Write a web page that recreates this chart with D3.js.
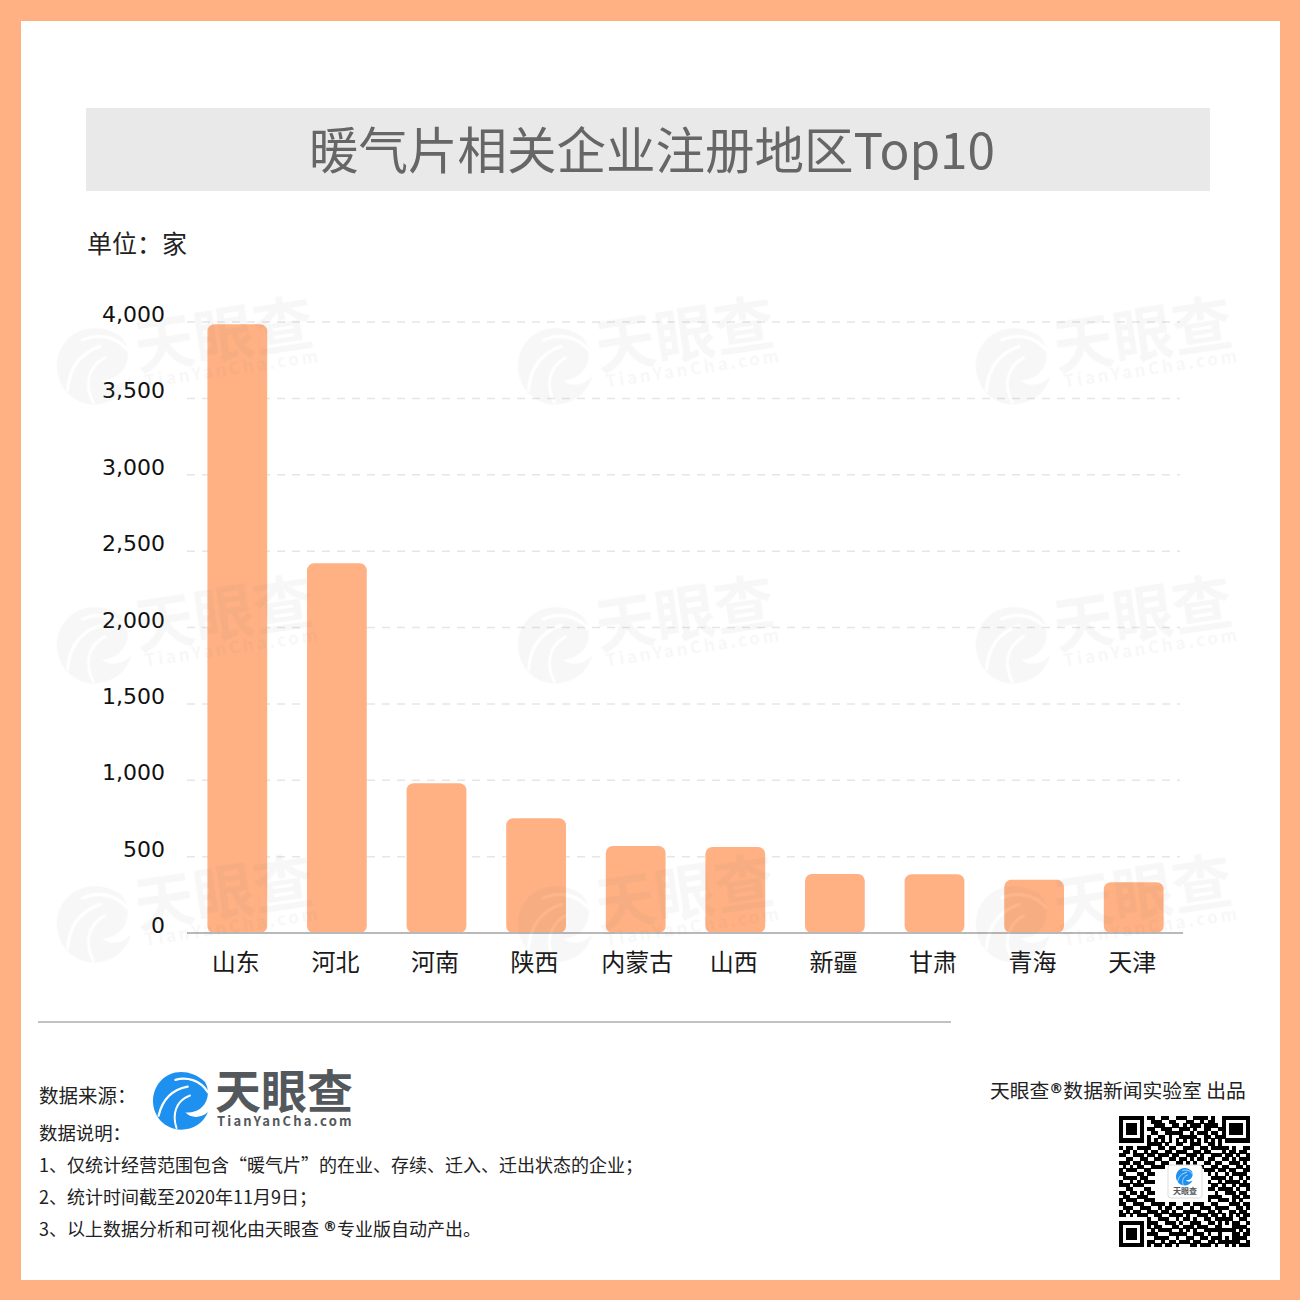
<!DOCTYPE html>
<html lang="zh">
<head>
<meta charset="utf-8">
<title>暖气片相关企业注册地区Top10</title>
<script src="https://cdn.jsdelivr.net/npm/d3@7"></script>
<style>
  html, body { margin: 0; padding: 0; background: #fff; }
  svg { display: block; }
  text { font-family: "Noto Sans CJK SC", "Noto Sans", sans-serif; }
  .y-axis text { font-family: "DejaVu Sans", sans-serif; font-size: 22px; fill: #111; }
  .y-axis .tick line { stroke: #e6e6e6; stroke-width: 1.5; stroke-dasharray: 8 7; }
  .y-axis .domain { display: none; }
  .x-axis text { font-size: 24px; fill: #1a1a1a; }
  .x-axis .tick line { display: none; }
  .x-axis .domain { stroke: #b9b9b9; stroke-width: 2; }
  .note { font-size: 18px; fill: #222; }
  .reg { font-family: "DejaVu Sans", sans-serif; font-size: 14px; font-weight: 700; }
</style>
</head>
<body>
<div id="chart"></div>
<script>
const categories = ['山东', '河北', '河南', '陕西', '内蒙古', '山西', '新疆', '甘肃', '青海', '天津'];
const counts = [3985, 2420, 980, 752, 570, 563, 386, 385, 348, 332];
const yTicks = [0, 500, 1000, 1500, 2000, 2500, 3000, 3500, 4000];

const titleText = '暖气片相关企业注册地区Top10';
const unitText = '单位：家';
const sourceLabel = '数据来源：';
const noteLabel = '数据说明：';
const notes = [
  ['1、仅统计经营范围包含“暖气片”的在业、存续、迁入、迁出状态的企业；'],
  ['2、统计时间截至2020年11月9日；'],
  ['3、以上数据分析和可视化由天眼查 ', '®', '专业版自动产出。']
];
const wmCols = [0, 461, 919];
const wmRows = [0, 279, 558];

// 二维码
const qrRows = [
  '1111111011001100111001111010011111111',
  '1000001001110011000110010110010000001',
  '1011101000111001101011101111010111101',
  '1011101011001110011101001100110111101',
  '1011101001100111110010111011010111101',
  '1000001010011010011111001101110000001',
  '1111111010101010101010101010101111111',
  '0000000011110100110011100110100000000',
  '1011011110011011001110011011111010011',
  '0110100101100110111001101100010110110',
  '1100111011011101100111010011101101001',
  '0011001100110011011010110110011010111',
  '1110110111001100110101001101100111010',
  '0101011001111011001110110011011001101',
  '1011100110000000000000001110110110011',
  '1100011011000000000000000101001011110',
  '0111101100000000000000000011110100101',
  '1001010111000000000000000100101111010',
  '1110111000000000000000000011010010111',
  '0011000110000000000000000110111101001',
  '1101101011000000000000000001001110110',
  '0110011100000000000000000111100011011',
  '1011100111000000000000000100111010100',
  '1100111001111011001101110011000111011',
  '0111001110010110110010011101111001101',
  '1010110011101101001111100110100110110',
  '1101011100110011110100111011010101011',
  '0000000010011100101101001101111100110',
  '1111111011100111010011100110101011001',
  '1000001010110001101110111001100011110',
  '1011101001011110010101001111111110101',
  '1011101011100011111001110100100011011',
  '1011101000111100100110011011101011110',
  '1000001011001011011101100110111111001',
  '1111111010110110100011011101001010111'
];

const width = 1300, height = 1300;
const margin = {top: 322, left: 187, right: 117, bottom: 367};

const svg = d3.select('#chart').append('svg')
  .attr('width', width)
  .attr('height', height);

// 外框
svg.append('rect').attr('width', width).attr('height', height).attr('fill', '#ffb184');
svg.append('rect').attr('x', 21).attr('y', 21).attr('width', 1259).attr('height', 1259).attr('fill', '#fff');

// 标题
svg.append('rect').attr('x', 86).attr('y', 108).attr('width', 1124).attr('height', 83).attr('fill', '#e9e9e9');
svg.append('text')
  .attr('x', 652).attr('y', 169)
  .attr('text-anchor', 'middle')
  .attr('font-size', 49.5)
  .attr('fill', '#666')
  .text(titleText);

svg.append('text').attr('x', 87).attr('y', 253).attr('font-size', 25).attr('fill', '#222').text(unitText);

// 天眼查图标
const defs = svg.append('defs');
const icon = defs.append('g').attr('id', 'tyc-icon');
icon.append('path').attr('d',
  'M50 0C22 0 0 23 0 52C0 80 22 103 50 103C72 103 90 91 98 72C84 84 66 82 58 72C74 74 92 66 97 46C100 34 96 22 92 17C80 6 66 0 50 0Z');
const iconCuts = icon.append('g').attr('fill', 'none').attr('stroke', '#fff').attr('stroke-linecap', 'round');
iconCuts.append('path').attr('stroke-width', 4).attr('d', 'M40 14C60 8 84 14 98 36');
iconCuts.append('path').attr('stroke-width', 4).attr('d', 'M10 78C16 52 30 32 62 26');
iconCuts.append('path').attr('stroke-width', 3.5).attr('d', 'M42 100C34 76 40 52 66 42');

function drawLogo(g, colors) {
  g.append('use').attr('href', '#tyc-icon').attr('fill', colors.icon);
}

const x = d3.scaleBand()
  .domain(categories)
  .range([margin.left + 0.5, width - margin.right + 0.5])
  .paddingInner(0.4)
  .paddingOuter(0.2);

const y = d3.scaleLinear()
  .domain([0, 4000])
  .range([height - margin.bottom, margin.top]);

// 网格线和纵轴
const yAxis = svg.append('g')
  .attr('class', 'y-axis')
  .attr('transform', `translate(${margin.left},0)`)
  .call(d3.axisLeft(y)
    .tickValues(yTicks)
    .tickFormat(d3.format(','))
    .tickSize(-993)
    .tickPadding(22)
    .offset(0));
yAxis.selectAll('.tick text').attr('dy', '0');
yAxis.selectAll('.tick').filter(d => d === 0).select('line').remove();

// 柱子
svg.append('g').selectAll('rect')
  .data(categories)
  .enter().append('rect')
  .attr('x', d => x(d))
  .attr('y', (d, i) => y(counts[i]))
  .attr('width', x.bandwidth())
  .attr('height', (d, i) => y(0) - y(counts[i]))
  .attr('rx', 7)
  .attr('fill', '#ffb184');

// 横轴
const xAxis = svg.append('g')
  .attr('class', 'x-axis')
  .attr('transform', `translate(0,${y(0)})`)
  .call(d3.axisBottom(x).tickSize(0).tickPadding(21));
xAxis.select('.domain').attr('d', `M${margin.left},0H1183`);
xAxis.selectAll('.tick text').attr('dx', d => d === '内蒙古' ? 1.5 : -1.5);

// 水印
const wmLayer = svg.append('g').attr('opacity', 0.055);
wmRows.forEach(dy => wmCols.forEach(dx => {
  const wm = wmLayer.append('g').attr('transform', `translate(${57 + dx},${302 + dy}) rotate(-8.5)`);
  wm.append('g').attr('transform', 'translate(-10,31) scale(0.74)').call(drawLogo, {icon: '#777'});
  wm.append('text').attr('x', 70).attr('y', 79)
    .attr('font-size', 60).attr('font-weight', 700).attr('fill', '#777').text('天眼查');
  wm.append('text').attr('x', 75).attr('y', 98)
    .attr('font-size', 17).attr('font-weight', 700).attr('letter-spacing', 2.8)
    .attr('fill', '#777').text('TianYanCha.com');
}));

// 底部
svg.append('line').attr('x1', 38).attr('x2', 951).attr('y1', 1022).attr('y2', 1022)
  .attr('stroke', '#c2c2c2').attr('stroke-width', 2);

svg.append('text').attr('class', 'note').attr('x', 39).attr('y', 1103).style('font-size', '19.5px').text(sourceLabel);
svg.append('text').attr('class', 'note').attr('x', 39).attr('y', 1140).style('font-size', '18.4px').text(noteLabel);

const noteLines = svg.append('g').selectAll('text')
  .data(notes)
  .enter().append('text')
  .attr('class', 'note')
  .attr('x', 39)
  .attr('y', (d, i) => 1167 + i * 32);
noteLines.each(function (parts) {
  const t = d3.select(this);
  parts.forEach(p => {
    if (p === '®') t.append('tspan').attr('class', 'reg').attr('dy', -5).text(p);
    else t.append('tspan').attr('dy', t.selectAll('tspan').size() ? 5 : 0).text(p);
  });
});

// 来源 logo
const logo = svg.append('g').attr('transform', 'translate(153,1072) scale(0.56)');
logo.call(drawLogo, {icon: '#1e90f0'});
svg.append('text').attr('x', 215).attr('y', 1108)
  .attr('font-size', 46).attr('font-weight', 700).attr('fill', '#53585c').text('天眼查');
svg.append('text').attr('x', 217).attr('y', 1126)
  .attr('font-size', 13).attr('font-weight', 700).attr('letter-spacing', 2.2)
  .attr('fill', '#53585c').text('TianYanCha.com');

// 右下角
const credit = svg.append('text').attr('x', 990).attr('y', 1098).attr('font-size', 19.8).attr('fill', '#222');
credit.append('tspan').text('天眼查');
credit.append('tspan').attr('class', 'reg').attr('dy', -5).text('®');
credit.append('tspan').attr('dy', 5).text('数据新闻实验室 出品');

const qrX = d3.scaleBand().domain(d3.range(37)).range([1119, 1250]);
const qrY = d3.scaleBand().domain(d3.range(qrRows.length)).range([1116, 1247]);
const qr = svg.append('g').attr('fill', '#000').attr('shape-rendering', 'crispEdges');
qrRows.forEach((row, r) => {
  row.split('').forEach((c, i) => {
    if (c === '1') {
      qr.append('rect')
        .attr('x', qrX(i)).attr('y', qrY(r))
        .attr('width', qrX.bandwidth() + 0.3)
        .attr('height', qrY.bandwidth() + 0.3);
    }
  });
});
svg.append('rect').attr('x', 1168).attr('y', 1165).attr('width', 34).attr('height', 33)
  .attr('rx', 3).attr('fill', '#fff').attr('stroke', '#ddd');
svg.append('g').attr('transform', 'translate(1176,1168) scale(0.17)').call(drawLogo, {icon: '#1e90f0'});
svg.append('text').attr('x', 1185).attr('y', 1194).attr('text-anchor', 'middle')
  .attr('font-size', 8).attr('font-weight', 700).attr('fill', '#53585c').text('天眼查');
</script>
</body>
</html>
